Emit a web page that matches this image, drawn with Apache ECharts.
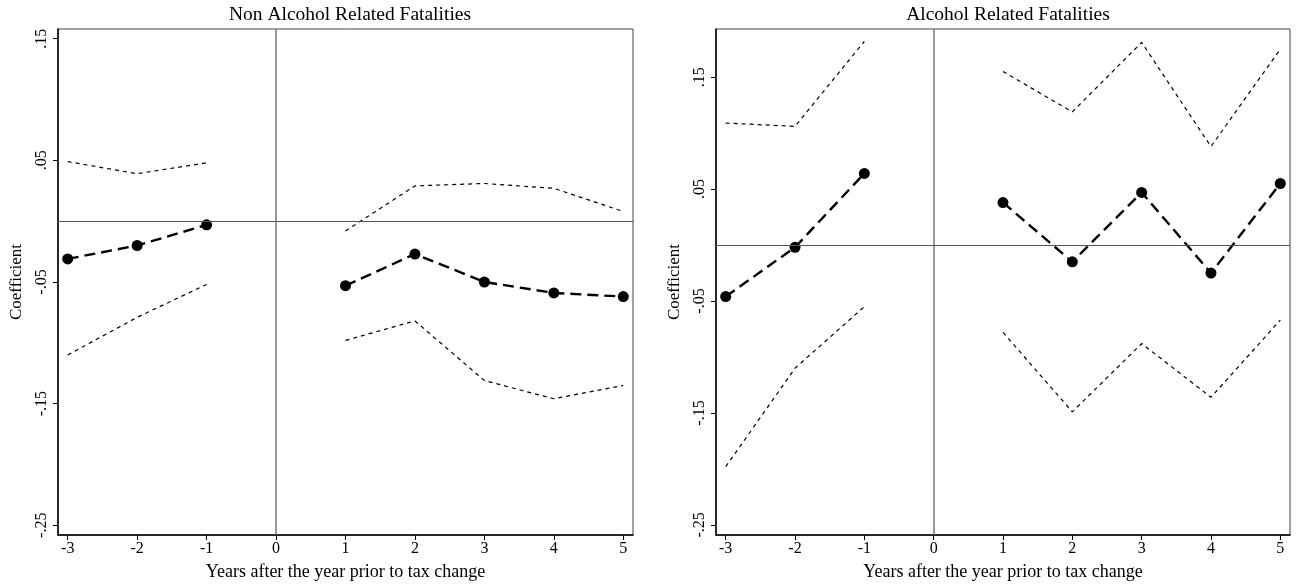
<!DOCTYPE html>
<html>
<head>
<meta charset="utf-8">
<script src="https://cdn.jsdelivr.net/npm/echarts@6/dist/echarts.min.js"></script>
<style>
  html, body { margin: 0; padding: 0; background: #fff; }
  #chart-container { width: 1298px; height: 586px; }
</style>
</head>
<body>
<div id="chart-container"></div>
<script>
var years = [-3, -2, -1, 1, 2, 3, 4, 5];
var xTicks = [-3, -2, -1, 0, 1, 2, 3, 4, 5];
var yTicks = [-0.25, -0.15, -0.05, 0.05, 0.15];

// Non alcohol related fatalities
var nonCoef  = [-0.031, -0.020, -0.003, -0.053, -0.027, -0.050, -0.059, -0.062];
var nonUpper = [0.049, 0.039, 0.048, -0.008, 0.029, 0.031, 0.027, 0.008];
var nonLower = [-0.110, -0.079, -0.052, -0.098, -0.082, -0.131, -0.146, -0.135];

// Alcohol related fatalities
var alcCoef  = [-0.046, -0.002, 0.064, 0.038, -0.015, 0.047, -0.025, 0.055];
var alcUpper = [0.109, 0.106, 0.182, 0.155, 0.119, 0.181, 0.088, 0.175];
var alcLower = [-0.198, -0.110, -0.055, -0.078, -0.149, -0.088, -0.136, -0.067];

var dom = document.getElementById('chart-container');
var myChart = echarts.init(dom, null, { renderer: 'canvas' });

var font = 'Liberation Serif';

// split into before / after the reference year so lines break at 0
function seg(vals, before) {
  var out = [];
  for (var i = 0; i < years.length; i++) {
    if ((before && years[i] < 0) || (!before && years[i] > 0)) out.push([years[i], vals[i]]);
  }
  return out;
}

function fmtY(v) {
  return v.toFixed(2).replace('0.', '.');
}

function xAxisFor(idx) {
  return {
    type: 'value', gridIndex: idx, min: -3.14, max: 5.14,
    name: 'Years after the year prior to tax change',
    nameLocation: 'middle', nameGap: 28,
    nameTextStyle: { fontFamily: font, fontSize: 18, color: '#000' },
    splitLine: { show: false },
    axisLine: { show: true, onZero: false, lineStyle: { color: '#000', width: 1.5 } },
    axisTick: { show: true, length: 5, customValues: xTicks, lineStyle: { color: '#000' } },
    axisLabel: { customValues: xTicks, margin: 6, fontFamily: font, fontSize: 16, color: '#000' }
  };
}

function yAxisFor(idx, min, max) {
  return {
    type: 'value', gridIndex: idx, min: min, max: max,
    name: 'Coefficient', nameLocation: 'middle', nameGap: 33,
    nameTextStyle: { fontFamily: font, fontSize: 17, color: '#000' },
    splitLine: { show: false },
    axisLine: { show: true, onZero: false, lineStyle: { color: '#000', width: 1.5 } },
    axisTick: { show: true, length: 5, customValues: yTicks, lineStyle: { color: '#000' } },
    axisLabel: { customValues: yTicks, rotate: 90, margin: 8, fontFamily: font, fontSize: 16, color: '#000', formatter: fmtY }
  };
}

function panelSeries(idx, coef, upper, lower) {
  var out = [];
  [true, false].forEach(function (before) {
    out.push({
      type: 'line', xAxisIndex: idx, yAxisIndex: idx, data: seg(upper, before),
      symbol: 'none', lineStyle: { color: '#000', width: 1.2, type: [4, 4] }, z: 3
    });
    out.push({
      type: 'line', xAxisIndex: idx, yAxisIndex: idx, data: seg(lower, before),
      symbol: 'none', lineStyle: { color: '#000', width: 1.2, type: [4, 4] }, z: 3
    });
    out.push({
      type: 'line', xAxisIndex: idx, yAxisIndex: idx, data: seg(coef, before),
      symbol: 'circle', symbolSize: 11, itemStyle: { color: '#000' },
      lineStyle: { color: '#000', width: 2.4, type: [11, 6] }, z: 4
    });
  });
  out[0].markLine = {
    silent: true, symbol: 'none', label: { show: false },
    data: [
      { xAxis: 0, lineStyle: { color: '#777', width: 1.5, type: 'solid' } },
      { yAxis: 0, lineStyle: { color: '#555', width: 1, type: 'solid' } }
    ]
  };
  return out;
}

var option = {
  animation: false,
  title: [
    { text: 'Non Alcohol Related Fatalities', left: 345, top: 0, textAlign: 'center',
      textStyle: { fontFamily: font, fontSize: 19.5, fontWeight: 'normal', color: '#000' } },
    { text: 'Alcohol Related Fatalities', left: 1003, top: 0, textAlign: 'center',
      textStyle: { fontFamily: font, fontSize: 19.5, fontWeight: 'normal', color: '#000' } }
  ],
  grid: [
    { left: 58, top: 29, width: 575, height: 507, show: true, borderColor: '#444', borderWidth: 1 },
    { left: 716, top: 29, width: 574, height: 507, show: true, borderColor: '#444', borderWidth: 1 }
  ],
  xAxis: [xAxisFor(0), xAxisFor(1)],
  yAxis: [yAxisFor(0, -0.258, 0.158), yAxisFor(1, -0.259, 0.193)],
  series: panelSeries(0, nonCoef, nonUpper, nonLower).concat(panelSeries(1, alcCoef, alcUpper, alcLower))
};

myChart.setOption(option);
window.addEventListener('resize', myChart.resize);
</script>
</body>
</html>
